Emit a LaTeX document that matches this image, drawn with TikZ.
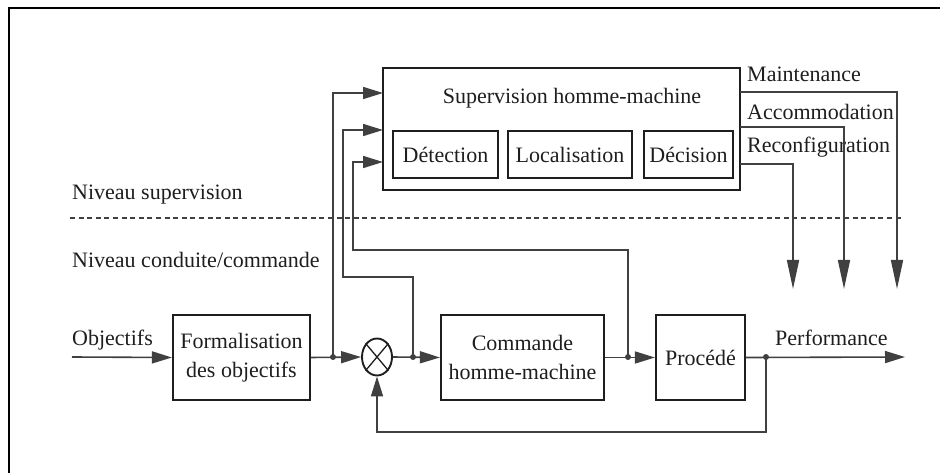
\documentclass[tikz,border=0pt]{standalone}
\usepackage{fontspec}
\setmainfont{Liberation Serif}
\usetikzlibrary{arrows.meta,shapes.geometric}
\definecolor{ink}{HTML}{1E1E1E}
\definecolor{wirec}{HTML}{404040}
\begin{document}
\begin{tikzpicture}[x=1pt,y=-1pt,
  font=\fontsize{22}{29}\selectfont,
  block/.style={draw=ink,line width=2.2pt,inner sep=0pt,align=center,text=ink},
  wire/.style={draw=wirec,line width=1.6pt},
  tip/.style={wire,-{Triangle[length=20pt,width=12pt]}},
  droptip/.style={wire,-{Triangle[length=29pt,width=12pt]}},
  dot/.style={circle,fill=wirec,inner sep=0pt,minimum size=6pt},
  lbl/.style={anchor=base west,inner sep=0pt,text=ink}]
\useasboundingbox (0,0) rectangle (940,473);

% page frame
\draw[black,line width=2pt] (9,473) -- (9,8) -- (940,8);

% supervision level
\node[block,minimum width=357pt,minimum height=122pt] (sup) at (561.5,129) {};
\node[anchor=base,inner sep=0pt,text=ink] (suptitle) at (572,104) {Supervision homme-machine};
\node[block,minimum width=105pt,minimum height=47pt] (det) at (445.5,154.5) {Détection};
\node[block,minimum width=124pt,minimum height=47pt] (loc) at (570,154.5) {Localisation};
\node[block,minimum width=89pt,minimum height=47pt] (dec) at (688.5,154.5) {Décision};

\node[lbl] (maint) at (747,82) {Maintenance};
\node[lbl] (accom) at (747,120) {Accommodation};
\node[lbl] (reconf) at (747,153) {Reconfiguration};

\node[lbl] (nsup) at (72,200) {Niveau supervision};
\node[lbl] (ncond) at (72,268) {Niveau conduite/commande};

% level separator
\coordinate (sepL) at (70,218);
\coordinate (sepR) at (903,218);
\draw[wire,dash pattern=on 5pt off 3.6pt] (sepL) -- (sepR);

% control loop
\node[lbl] (obj) at (72,345) {Objectifs};
\node[lbl] (perf) at (775,345) {Performance};
\node[block,minimum width=137pt,minimum height=85pt] (form) at (241.5,357.5) {Formalisation\\des objectifs};
\node[ellipse,draw=ink,line width=1.9pt,minimum width=30pt,minimum height=37pt,inner sep=0pt] (sum) at (377,357) {};
\draw[ink,line width=1.3pt] (sum.130) -- (sum.-50) (sum.50) -- (sum.-130);
\node[block,minimum width=163pt,minimum height=85pt] (cmd) at (522.5,357.5) {Commande\\homme-machine};
\node[block,minimum width=89pt,minimum height=85pt] (proc) at (700.5,357.5) {Procédé};

\coordinate (start) at (72,357);
\coordinate (outend) at (905,357);
\node[dot] (j1) at (333,357) {};
\node[dot] (j2) at (413,357) {};
\node[dot] (j3) at (628,357) {};
\node[dot] (j4) at (766,357) {};

\draw[tip] (start) -- (form.west);
\draw[tip] (form.east) -- (sum.west);
\draw[tip] (sum.east) -- (cmd.west);
\draw[tip] (cmd.east) -- (proc.west);
\draw[tip] (proc.east) -- (outend);

% feedback to the comparator
\coordinate (fb) at (377,432);
\draw[tip] (j4.center) |- (fb) -- (sum.south);

% signals sent to the supervision
\coordinate (in1) at (383,93);
\coordinate (in2) at (383,130);
\coordinate (in3) at (383,162);
\coordinate (k2) at (343,277);
\coordinate (k3) at (353,250);
\draw[tip] (j1.center) |- (in1);
\draw[tip] (j2.center) |- (k2) |- (in2);
\draw[tip] (j3.center) |- (k3) |- (in3);

% supervision actions
\coordinate (o1) at (740,92);
\coordinate (o2) at (740,127);
\coordinate (o3) at (740,164);
\coordinate (d1) at (897,289);
\coordinate (d2) at (844,289);
\coordinate (d3) at (793,289);
\draw[droptip] (o1) -| (d1);
\draw[droptip] (o2) -| (d2);
\draw[droptip] (o3) -| (d3);
\end{tikzpicture}
\end{document}
